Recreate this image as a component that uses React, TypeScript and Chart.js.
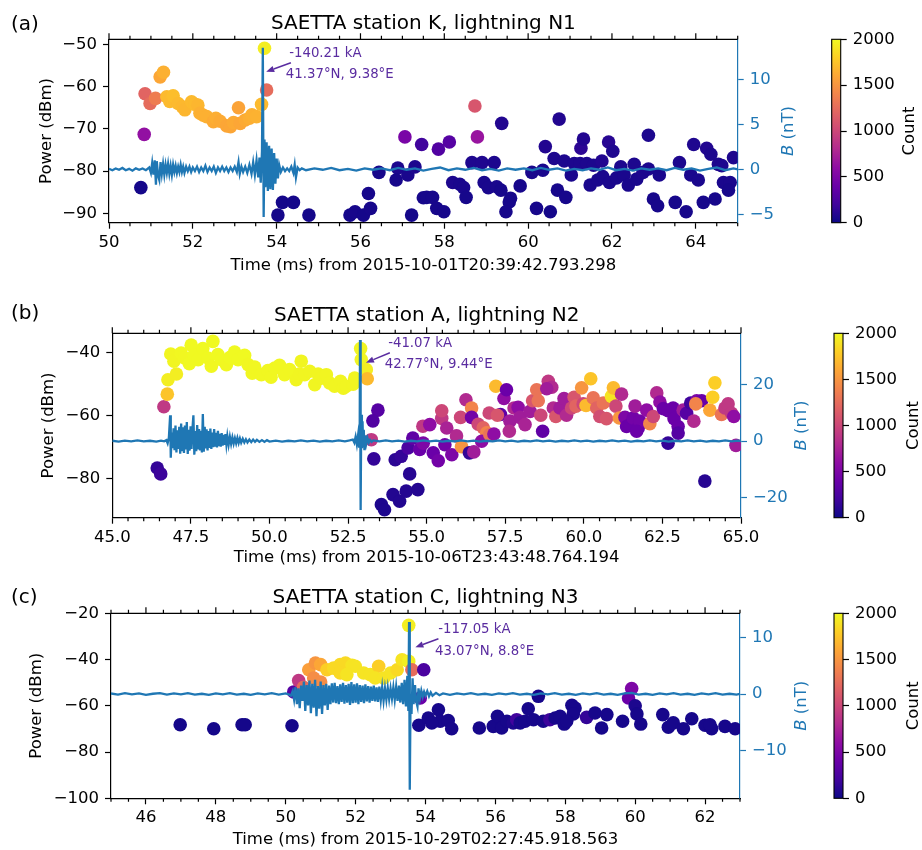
import React, { useEffect, useRef } from 'react';
import { Chart, registerables } from 'chart.js';

Chart.register(...registerables);

const FONT = "'DejaVu Sans', 'Liberation Sans', sans-serif";
const BLUE = '#1f77b4';
const ANN = '#5a2ca0';
const CMAX = 2000;
const PLASMA = ['#0d0887', '#41049d', '#6a00a8', '#8f0da4', '#b12a90', '#cc4778', '#e16462', '#f2844b', '#fca636', '#fcce25', '#f0f921'];

// ---------------- Panel (a) ----------------
// [time ms, power dBm, count]
const scatterA = [
  [50.76, -83.9, 30], [50.84, -71.3, 620], [50.86, -61.7, 1200], [50.98, -64.0, 1250], [51.11, -62.8, 1350],
  [51.22, -57.7, 1600], [51.30, -56.6, 1650], [51.38, -62.4, 1700], [51.45, -63.5, 1700], [51.53, -62.2, 1720],
  [51.65, -64.0, 1700], [51.75, -64.8, 1690], [51.81, -65.5, 1680], [51.97, -63.6, 1700], [52.05, -64.2, 1700],
  [52.12, -64.4, 1680], [52.17, -66.3, 1650], [52.25, -66.8, 1650], [52.33, -67.1, 1650], [52.49, -68.3, 1620],
  [52.55, -67.5, 1640], [52.65, -68.2, 1620], [52.81, -69.3, 1600], [52.90, -69.5, 1600], [52.97, -68.5, 1620],
  [53.09, -65.0, 1580], [53.13, -68.7, 1600], [53.25, -67.9, 1620], [53.35, -67.5, 1640], [53.41, -66.7, 1650],
  [53.52, -67.1, 1660], [53.64, -64.2, 1700], [53.71, -50.95, 1950], [53.76, -60.8, 1250],
  [53.85, -79.8, 40], [54.03, -90.4, 30], [54.14, -87.4, 30], [54.40, -87.4, 30], [54.77, -90.4, 30],
  [55.75, -90.4, 30], [55.87, -89.6, 40], [56.07, -90.4, 30], [56.24, -88.8, 40], [56.19, -85.3, 40],
  [56.44, -80.3, 40], [56.89, -79.3, 60], [56.85, -82.1, 40], [57.13, -80.9, 50], [57.30, -79.0, 60],
  [57.06, -71.9, 480], [57.46, -73.7, 200], [57.50, -86.3, 40], [57.22, -90.4, 30], [57.58, -86.2, 40],
  [57.72, -86.2, 40], [57.82, -88.8, 40], [57.99, -89.6, 40], [57.86, -74.8, 280], [58.12, -73.1, 300],
  [58.73, -64.6, 1100], [58.79, -71.9, 650], [58.20, -82.7, 60], [58.37, -83.1, 50], [58.46, -83.9, 50],
  [58.52, -86.2, 40], [58.66, -78.0, 70], [58.90, -78.0, 70], [58.95, -82.7, 50], [59.05, -83.9, 50],
  [59.19, -78.0, 60], [59.25, -83.7, 50], [59.35, -84.5, 40], [59.37, -68.7, 80], [59.58, -86.4, 40],
  [59.55, -87.3, 40], [59.47, -89.6, 40], [59.81, -83.5, 40], [60.09, -80.3, 50], [60.20, -88.8, 40],
  [60.35, -79.8, 50], [60.41, -74.2, 80], [60.53, -89.6, 30], [60.62, -77.0, 60], [60.74, -67.7, 80],
  [60.70, -84.5, 40], [60.86, -77.6, 60], [60.90, -86.2, 40], [61.03, -80.9, 50], [61.10, -78.2, 60],
  [61.26, -74.6, 120], [61.32, -72.4, 80], [61.24, -78.2, 60], [61.40, -78.2, 60], [61.56, -78.6, 60],
  [61.48, -83.3, 50], [61.66, -82.1, 50], [61.76, -77.6, 80], [61.78, -81.3, 50], [61.92, -73.1, 100],
  [62.02, -75.3, 70], [61.94, -82.7, 50], [62.11, -81.6, 50], [62.21, -79.0, 60], [62.29, -80.9, 50],
  [62.39, -83.3, 50], [62.53, -78.4, 60], [62.59, -81.9, 50], [62.74, -80.3, 60], [62.87, -71.5, 60],
  [62.87, -79.5, 60], [62.99, -86.6, 40], [63.09, -88.2, 40], [63.13, -80.9, 50], [63.51, -87.4, 40],
  [63.61, -78.0, 60], [63.77, -89.6, 40], [63.88, -80.9, 50], [64.06, -82.1, 50], [63.95, -73.7, 70],
  [64.18, -87.4, 40], [64.26, -74.6, 80], [64.36, -76.0, 60], [64.46, -86.6, 40], [64.54, -78.4, 60],
  [64.62, -78.7, 60], [64.66, -82.7, 50], [64.82, -82.7, 50], [64.78, -84.5, 40], [64.90, -76.8, 60],
];
// [time ms, B nT]
const bFieldA = [
  [50.00, 0.05], [50.08, -0.1], [50.16, 0.1], [50.24, -0.05], [50.32, 0.15], [50.40, -0.1], [50.48, 0.05], [50.56, -0.15],
  [50.64, 0.1], [50.72, -0.05], [50.80, 0.1], [50.88, -0.1], [50.96, 0.2], [51.00, -0.4], [51.03, 0.7], [51.06, -0.6],
  [51.09, 1.0], [51.12, -1.7], [51.14, 0.9], [51.17, -0.7], [51.20, -1.2], [51.23, 0.8], [51.26, -0.5], [51.29, 0.6],
  [51.32, -0.6], [51.35, 0.5], [51.38, -0.4], [51.41, 0.6], [51.44, -0.5], [51.47, 0.4], [51.50, -0.6], [51.53, 0.5],
  [51.56, -0.3], [51.59, 0.4], [51.62, -0.4], [51.65, 0.3], [51.68, -0.3], [51.71, 0.5], [51.74, -0.3], [51.77, 0.3],
  [51.80, -0.4], [51.84, 0.3], [51.88, -0.2], [51.92, 0.3], [51.96, -0.3], [52.00, 0.2], [52.05, -0.2], [52.10, 0.3],
  [52.15, -0.3], [52.20, 0.2], [52.25, -0.2], [52.30, 0.4], [52.35, -0.3], [52.40, 0.2], [52.45, -0.2], [52.50, 0.3],
  [52.55, -0.4], [52.60, 0.2], [52.65, -0.2], [52.70, 0.3], [52.75, -0.2], [52.80, 0.2], [52.85, -0.3], [52.90, 0.2],
  [52.95, -0.2], [53.00, 0.3], [53.05, -0.3], [53.09, 0.8], [53.12, -0.5], [53.16, 0.3], [53.20, -0.3], [53.25, 0.3],
  [53.30, -0.4], [53.35, 0.5], [53.40, -0.5], [53.44, 0.8], [53.48, -0.6], [53.52, 1.0], [53.56, -0.9], [53.59, 1.3],
  [53.62, -1.5], [53.65, 2.0], [53.67, 13.5], [53.69, -5.3], [53.71, 3.3], [53.73, -2.0], [53.76, 3.0], [53.79, -2.4],
  [53.82, 2.6], [53.85, -2.2], [53.88, 2.3], [53.91, -2.3], [53.94, 1.8], [53.97, -1.6], [54.00, 1.2], [54.03, -1.0],
  [54.06, 0.5], [54.10, -0.3], [54.15, 0.2], [54.20, -0.2], [54.25, 0.1], [54.30, -0.2], [54.35, 0.3], [54.40, -0.4],
  [54.43, 0.5], [54.46, -0.9], [54.50, 0.2], [54.55, -0.1], [54.60, 0.1], [54.70, -0.1], [54.9, 0.1], [55.1, -0.05],
  [55.3, 0.15], [55.5, -0.1], [55.7, 0.05], [55.9, -0.15], [56.1, 0.1], [56.3, -0.05], [56.5, 0.1], [56.7, -0.1],
  [56.9, 0.15], [57.1, -0.05], [57.3, 0.1], [57.5, -0.15], [57.7, 0.05], [57.9, 0.2], [58.1, -0.1], [58.3, 0.1],
  [58.5, -0.05], [58.7, 0.15], [58.9, -0.1], [59.1, 0.05], [59.3, -0.15], [59.5, 0.1], [59.7, -0.05], [59.9, 0.1],
  [60.1, -0.1], [60.3, 0.15], [60.5, -0.05], [60.7, 0.1], [60.9, -0.15], [61.1, 0.05], [61.3, -0.1], [61.5, 0.1],
  [61.7, -0.05], [61.9, 0.2], [62.1, -0.1], [62.3, 0.05], [62.5, -0.15], [62.7, 0.1], [62.9, -0.05], [63.1, 0.1],
  [63.3, -0.1], [63.5, 0.15], [63.7, -0.05], [63.9, 0.1], [64.1, -0.15], [64.3, 0.05], [64.5, 0.2], [64.7, -0.1],
  [64.9, 0.1], [65.0, 0.0],
];
const xTicksA = [50, 52, 54, 56, 58, 60, 62, 64];
const yTicksA = [-90, -80, -70, -60, -50];
const bTicksA = [-5, 0, 5, 10];

// ---------------- Panel (b) ----------------
const scatterB = [
  [46.43, -76.7, 150], [46.54, -78.6, 180], [46.64, -57.2, 900], [46.75, -53.2, 1750], [46.77, -48.6, 1950],
  [47.04, -46.8, 1950], [46.86, -40.4, 1980], [46.96, -42.7, 1980], [47.19, -40.1, 1990], [47.30, -41.7, 1990],
  [47.45, -43.5, 2000], [47.51, -37.6, 2000], [47.60, -40.8, 2000], [47.73, -42.2, 2000], [47.88, -38.7, 2000],
  [48.04, -41.7, 2000], [48.15, -44.3, 1990], [48.20, -36.4, 2000], [48.36, -40.6, 2000], [48.47, -42.2, 2000],
  [48.63, -43.8, 1990], [48.75, -41.5, 2000], [48.89, -39.8, 2000], [49.00, -42.2, 2000], [49.21, -40.8, 2000],
  [49.32, -43.8, 1990], [49.45, -46.5, 1990], [49.53, -44.6, 1990], [49.74, -47.0, 1990], [49.95, -45.7, 1990],
  [50.05, -47.8, 1990], [50.17, -44.9, 1990], [50.32, -44.0, 1990], [50.48, -47.0, 1990], [50.64, -45.4, 1990],
  [50.85, -48.6, 1980], [50.95, -46.8, 1980], [51.01, -42.7, 1980], [51.12, -47.0, 1980], [51.28, -45.9, 1980],
  [51.44, -50.2, 1980], [51.55, -46.8, 1980], [51.65, -48.1, 1980], [51.81, -47.0, 1980], [51.91, -49.6, 1980],
  [52.07, -50.7, 1980], [52.26, -49.1, 1980], [52.35, -51.3, 1980], [52.44, -50.7, 1980], [52.66, -50.0, 1980],
  [52.71, -48.1, 1980], [52.90, -38.7, 1980], [52.92, -42.2, 1980], [53.08, -45.4, 1950], [53.11, -48.3, 1700],
  [53.45, -58.3, 300], [53.29, -61.7, 280], [53.24, -67.7, 900], [53.32, -73.8, 150], [53.56, -88.4, 60],
  [53.66, -90.0, 60], [53.93, -85.2, 80], [54.14, -87.3, 80], [54.35, -84.1, 90], [54.46, -78.6, 100],
  [54.72, -83.6, 90], [54.00, -74.1, 120], [54.19, -73.0, 150], [54.41, -70.3, 250], [54.56, -67.2, 350],
  [54.78, -70.8, 400], [54.88, -63.4, 900], [55.10, -62.9, 600], [54.89, -68.8, 500], [55.21, -71.9, 400],
  [55.37, -74.4, 450], [55.48, -60.9, 900], [55.48, -58.5, 1000], [55.64, -64.0, 750], [55.58, -69.3, 450],
  [55.80, -72.5, 500], [55.95, -66.5, 800], [56.11, -69.9, 1500], [56.08, -60.6, 1000], [56.25, -55.0, 800],
  [56.43, -57.6, 1400], [56.43, -60.6, 450], [56.36, -71.9, 150], [56.50, -71.6, 700], [56.64, -62.8, 1000],
  [56.80, -63.9, 1200], [56.91, -65.5, 1400], [56.75, -68.2, 600], [57.01, -66.1, 1300], [57.14, -65.9, 600],
  [56.99, -59.2, 1000], [57.20, -50.7, 1700], [57.35, -59.7, 350], [57.25, -59.9, 1100], [57.46, -54.6, 600],
  [57.54, -51.8, 400], [57.65, -61.8, 700], [57.63, -65.0, 800], [57.78, -57.6, 800], [57.91, -57.4, 600],
  [57.97, -60.6, 700], [58.13, -62.9, 750], [58.29, -58.7, 700], [58.37, -55.3, 1100], [58.50, -51.8, 1300],
  [58.55, -55.3, 1300], [58.63, -59.9, 1000], [58.69, -65.0, 350], [58.87, -49.1, 900], [58.98, -51.0, 800],
  [58.82, -51.5, 700], [59.03, -57.6, 800], [59.11, -60.3, 1100], [59.24, -57.6, 700], [59.37, -54.6, 700],
  [59.45, -59.9, 800], [59.61, -57.6, 1000], [59.69, -54.2, 1100], [59.75, -57.0, 1200], [59.93, -51.2, 1500],
  [59.98, -56.3, 1000], [60.07, -56.8, 1700], [60.22, -48.3, 1750], [60.30, -54.4, 1300], [60.41, -57.6, 1200],
  [60.51, -60.3, 1050], [60.62, -56.0, 1300], [60.72, -61.0, 1100], [60.88, -53.9, 1900], [60.94, -51.2, 1700],
  [61.02, -57.0, 1000], [61.20, -53.2, 800], [61.13, -60.8, 1500], [61.31, -60.6, 500], [61.36, -63.5, 400],
  [61.47, -62.9, 400], [61.57, -60.8, 450], [61.73, -64.0, 400], [61.78, -61.8, 450], [61.63, -57.0, 700],
  [61.68, -65.0, 400], [62.00, -58.3, 600], [62.10, -62.6, 1400], [62.21, -60.3, 1000], [62.32, -52.8, 800],
  [62.42, -55.7, 600], [62.53, -57.8, 400], [62.68, -58.5, 400], [62.84, -57.6, 400], [62.87, -61.0, 400],
  [63.00, -63.5, 400], [63.00, -65.6, 300], [62.68, -68.8, 150], [63.16, -58.3, 700], [63.27, -59.3, 300],
  [63.40, -56.0, 200], [63.59, -55.3, 500], [63.75, -55.3, 400], [63.50, -61.8, 800], [63.56, -56.3, 1400],
  [63.85, -80.9, 100], [64.01, -58.3, 1600], [64.10, -54.2, 1800], [64.17, -49.6, 1800], [64.38, -59.7, 1300],
  [64.49, -57.6, 900], [64.59, -56.3, 900], [64.70, -59.3, 900], [64.77, -60.3, 600], [64.84, -69.5, 700],
];
const bFieldB = [
  [45.0, 0.1], [45.2, -0.2], [45.4, 0.15], [45.6, -0.1], [45.8, 0.2], [46.0, -0.15], [46.2, 0.1], [46.4, -0.2],
  [46.55, 0.15], [46.65, -0.1], [46.72, 0.3], [46.76, -0.8], [46.80, 1.2], [46.84, 9.1], [46.86, -5.9], [46.89, 3.0],
  [46.92, -2.5], [46.95, 4.5], [46.98, -3.2], [47.01, 5.5], [47.04, -4.0], [47.07, 3.8], [47.10, -2.8], [47.13, 5.0],
  [47.16, -4.5], [47.19, 6.2], [47.22, -3.6], [47.25, 4.8], [47.28, -4.2], [47.31, 5.5], [47.34, -3.0], [47.37, 6.7],
  [47.40, -4.6], [47.43, 4.0], [47.46, -3.4], [47.49, 5.2], [47.52, -2.8], [47.55, 4.3], [47.58, 9.1], [47.61, -4.8],
  [47.64, 3.5], [47.67, -3.6], [47.70, 5.6], [47.73, -3.0], [47.76, 4.2], [47.79, -2.9], [47.82, 3.6], [47.85, -4.0],
  [47.88, 9.5], [47.91, -3.8], [47.94, 5.0], [47.97, -2.6], [48.00, 4.1], [48.03, -3.3], [48.06, 3.5], [48.09, -2.4],
  [48.12, 4.4], [48.15, -2.8], [48.18, 3.0], [48.21, -2.2], [48.24, 4.2], [48.27, -2.0], [48.30, 2.9], [48.33, -2.3],
  [48.36, 3.6], [48.39, -1.8], [48.42, 2.5], [48.45, -2.0], [48.48, 2.8], [48.51, -1.6], [48.54, 2.2], [48.57, -1.4],
  [48.60, 2.4], [48.63, -1.2], [48.66, 1.8], [48.70, -1.3], [48.74, 1.5], [48.78, -1.0], [48.82, 1.3], [48.86, -0.9],
  [48.90, 1.0], [48.94, -0.8], [48.98, 1.1], [49.02, -0.7], [49.06, 0.9], [49.10, -0.6], [49.15, 0.8], [49.20, -0.5],
  [49.25, 0.6], [49.30, -0.5], [49.36, 0.5], [49.42, -0.4], [49.48, 0.5], [49.54, -0.3], [49.60, 0.4], [49.68, -0.3],
  [49.76, 0.3], [49.84, -0.3], [49.92, 0.3], [50.0, -0.2], [50.2, 0.15], [50.4, -0.2], [50.6, 0.1], [50.8, -0.15],
  [51.0, 0.2], [51.2, -0.1], [51.4, 0.15], [51.6, -0.2], [51.8, 0.1], [52.0, -0.15], [52.2, 0.2], [52.4, -0.1],
  [52.55, 0.2], [52.65, 0.5], [52.70, -0.6], [52.74, 1.5], [52.78, -1.2], [52.82, 2.2], [52.85, -2.0], [52.87, 3.0],
  [52.88, 35.6], [52.90, -24.3], [52.92, 9.3], [52.94, -2.5], [52.96, 7.0], [52.98, -1.8], [53.00, 4.0], [53.02, -3.2],
  [53.05, 2.0], [53.08, -1.0], [53.12, 1.0], [53.16, -0.6], [53.20, 0.4], [53.25, -0.3], [53.30, 0.2], [53.5, -0.15],
  [53.7, 0.2], [53.9, -0.1], [54.1, 0.15], [54.3, -0.2], [54.5, 0.1], [54.7, -0.15], [54.9, 0.2], [55.1, -0.1],
  [55.3, 0.15], [55.5, -0.2], [55.7, 0.1], [55.9, -0.15], [56.1, 0.2], [56.3, -0.1], [56.5, 0.15], [56.7, -0.2],
  [56.9, 0.1], [57.1, -0.15], [57.3, 0.2], [57.5, -0.1], [57.7, 0.15], [57.9, -0.2], [58.1, 0.1], [58.3, -0.15],
  [58.5, 0.2], [58.7, -0.1], [58.9, 0.15], [59.1, -0.2], [59.3, 0.1], [59.5, -0.15], [59.7, 0.2], [59.9, -0.1],
  [60.1, 0.15], [60.3, -0.2], [60.5, 0.1], [60.7, -0.15], [60.9, 0.2], [61.1, -0.1], [61.3, 0.15], [61.5, -0.2],
  [61.7, 0.1], [61.9, -0.15], [62.1, 0.2], [62.3, -0.1], [62.5, 0.15], [62.7, -0.2], [62.9, 0.1], [63.1, -0.15],
  [63.3, 0.2], [63.5, -0.1], [63.7, 0.15], [63.9, -0.2], [64.1, 0.1], [64.3, -0.15], [64.5, 0.2], [64.7, -0.1],
  [64.9, 0.15], [65.0, 0.0],
];
const xTicksB = [45, 47.5, 50, 52.5, 55, 57.5, 60, 62.5, 65];
const yTicksB = [-80, -60, -40];
const bTicksB = [-20, 0, 20];

// ---------------- Panel (c) ----------------
const scatterC = [
  [46.98, -68.2, 30], [47.94, -69.9, 30], [48.75, -68.2, 30], [48.84, -68.2, 30], [50.18, -68.6, 30],
  [50.23, -54.0, 300], [50.37, -49.1, 900], [50.51, -52.0, 1250], [50.66, -44.4, 1550], [50.85, -41.5, 1500],
  [51.00, -42.2, 1600], [50.80, -48.0, 1450], [51.00, -49.7, 1450], [51.18, -44.4, 1800], [51.37, -43.7, 1850],
  [51.56, -42.2, 1850], [51.71, -41.5, 1850], [51.90, -42.5, 1900], [51.99, -42.9, 1900], [51.56, -45.8, 1850],
  [51.75, -46.5, 1900], [52.23, -45.8, 1900], [52.42, -46.5, 1900], [52.66, -42.9, 1800], [52.56, -48.0, 1900],
  [52.80, -48.0, 1900], [53.00, -45.8, 1900], [53.19, -44.4, 1850], [53.33, -40.1, 1900], [53.52, -40.8, 1950],
  [53.52, -25.2, 1950], [53.61, -44.4, 1250], [53.95, -44.4, 250], [53.81, -68.4, 40], [53.85, -56.6, 400],
  [54.08, -65.3, 40], [54.37, -61.7, 40], [54.42, -66.7, 40], [54.65, -66.4, 40], [54.75, -69.9, 40],
  [54.18, -67.4, 40], [55.54, -69.6, 40], [55.94, -68.9, 40], [56.06, -64.5, 40], [56.18, -69.6, 40],
  [56.33, -66.7, 40], [56.51, -67.4, 60], [56.61, -66.0, 200], [56.71, -67.4, 40], [56.85, -66.7, 40],
  [56.94, -61.3, 40], [57.09, -66.0, 40], [57.23, -55.9, 40], [57.37, -66.7, 40], [57.56, -66.0, 180],
  [57.71, -65.3, 40], [57.85, -64.5, 40], [57.97, -67.9, 40], [58.19, -59.8, 40], [58.28, -61.0, 40],
  [58.23, -63.5, 40], [58.04, -66.7, 40], [58.61, -65.0, 150], [58.85, -63.1, 40], [59.19, -63.8, 40],
  [59.04, -69.6, 40], [59.64, -66.7, 40], [59.90, -52.5, 500], [59.81, -56.6, 400], [60.00, -60.0, 60],
  [60.05, -63.5, 40], [60.16, -67.9, 40], [60.79, -63.8, 40], [60.95, -69.3, 40], [61.09, -67.4, 40],
  [61.38, -69.9, 40], [61.62, -65.6, 40], [62.00, -68.4, 40], [62.19, -69.9, 40], [62.14, -68.2, 40],
  [62.57, -68.9, 40], [62.86, -69.9, 40],
];
const bFieldC = [
  [45.0, 0.1], [45.2, -0.1], [45.4, 0.15], [45.6, -0.05], [45.8, 0.1], [46.0, -0.15], [46.2, 0.05], [46.4, 0.15],
  [46.6, -0.1], [46.8, 0.1], [47.0, -0.05], [47.2, 0.15], [47.4, -0.1], [47.6, 0.05], [47.8, -0.15], [48.0, 0.1],
  [48.2, -0.05], [48.4, 0.15], [48.6, -0.1], [48.8, 0.05], [49.0, -0.15], [49.2, 0.1], [49.4, -0.05], [49.6, 0.15],
  [49.8, -0.1], [50.0, 0.1], [50.1, -0.1], [50.15, -0.3], [50.20, 0.5], [50.24, -1.0], [50.28, 1.2], [50.32, -1.8],
  [50.36, 1.0], [50.40, -2.5], [50.44, 1.5], [50.48, -1.2], [50.52, 2.2], [50.56, -3.0], [50.60, 1.6], [50.64, -2.0],
  [50.68, 2.4], [50.72, -3.4], [50.76, 1.8], [50.80, -2.4], [50.84, 2.5], [50.88, -3.9], [50.92, 1.4], [50.96, -2.6],
  [51.00, 2.2], [51.04, -3.5], [51.08, 1.6], [51.12, -2.0], [51.16, 1.8], [51.20, -2.8], [51.24, 1.5], [51.28, -1.8],
  [51.32, 1.9], [51.36, -1.5], [51.40, 2.0], [51.44, -1.6], [51.48, 1.4], [51.52, -1.8], [51.56, 1.7], [51.60, -1.4],
  [51.64, 2.0], [51.68, -1.7], [51.72, 1.6], [51.76, -1.5], [51.80, 1.8], [51.84, -1.9], [51.88, 2.1], [51.92, -1.6],
  [51.96, 1.7], [52.00, -1.5], [52.04, 1.9], [52.08, -1.8], [52.12, 1.6], [52.16, -1.4], [52.20, 1.5], [52.24, -1.6],
  [52.28, 1.7], [52.32, -1.3], [52.36, 1.4], [52.40, -1.5], [52.44, 1.3], [52.48, -1.2], [52.52, 1.5], [52.56, -1.3],
  [52.60, 1.2], [52.64, -1.4], [52.68, 1.3], [52.72, -1.1], [52.76, 1.2], [52.80, -1.2], [52.84, 1.0], [52.88, -1.0],
  [52.92, 1.1], [52.96, -0.9], [53.00, 1.0], [53.04, -0.8], [53.08, 1.2], [53.12, -1.0], [53.16, 1.3], [53.20, -1.2],
  [53.24, 1.5], [53.28, -1.5], [53.32, 2.0], [53.36, -1.8], [53.40, 2.5], [53.44, -2.2], [53.48, 3.2], [53.51, -3.0],
  [53.53, 12.7], [53.55, -16.9], [53.57, -2.0], [53.60, -3.5], [53.63, 2.8], [53.66, -1.8], [53.70, 1.6], [53.73, -1.2],
  [53.77, -2.2], [53.80, 1.0], [53.84, -0.8], [53.88, 0.6], [53.92, -0.5], [53.96, 0.4], [54.0, -0.3], [54.05, 0.5],
  [54.1, -0.4], [54.15, 0.3], [54.2, -0.3], [54.3, 0.2], [54.4, -0.2], [54.5, 0.1], [54.7, -0.15], [54.9, 0.1],
  [55.1, -0.05], [55.3, 0.15], [55.5, -0.1], [55.7, 0.05], [55.9, -0.15], [56.1, 0.1], [56.3, -0.05], [56.5, 0.15],
  [56.7, -0.1], [56.9, 0.05], [57.1, -0.15], [57.3, 0.1], [57.5, -0.05], [57.7, 0.15], [57.9, -0.1], [58.1, 0.05],
  [58.3, -0.15], [58.5, 0.1], [58.7, -0.05], [58.9, 0.15], [59.1, -0.1], [59.3, 0.05], [59.5, -0.15], [59.7, 0.1],
  [59.9, 0.2], [60.1, -0.1], [60.3, 0.05], [60.5, -0.15], [60.7, 0.1], [60.9, -0.05], [61.1, 0.15], [61.3, -0.1],
  [61.5, 0.05], [61.7, -0.15], [61.9, 0.1], [62.1, -0.05], [62.3, 0.15], [62.5, -0.1], [62.7, 0.05], [62.9, -0.1],
  [63.0, 0.05],
];
const xTicksC = [46, 48, 50, 52, 54, 56, 58, 60, 62];
const yTicksC = [-100, -80, -60, -40, -20];
const bTicksC = [-10, 0, 10];

const countTicks = [0, 500, 1000, 1500, 2000];

// ---------------- helpers ----------------
function hexToRgb(h: string) {
  return [parseInt(h.slice(1, 3), 16), parseInt(h.slice(3, 5), 16), parseInt(h.slice(5, 7), 16)];
}
function plasma(v: number) {
  const t = Math.max(0, Math.min(1, v));
  const s = t * (PLASMA.length - 1);
  const i = Math.min(PLASMA.length - 2, Math.floor(s));
  const f = s - i;
  const a = hexToRgb(PLASMA[i]);
  const b = hexToRgb(PLASMA[i + 1]);
  const c = a.map((x, k) => Math.round(x + (b[k] - x) * f));
  return `rgb(${c[0]},${c[1]},${c[2]})`;
}
const fmt = (v: number, d: number) => (v < 0 ? '\u2212' : '') + Math.abs(v).toFixed(d);

type Panel = {
  label: string; title: string; xlabel: string;
  top: number; H: number; areaTop: number; areaBottom: number; areaLeft: number; areaRight: number; cbRight: number;
  xMin: number; xMax: number; xTicks: number[]; xDec: number; minor: number;
  yMin: number; yMax: number; yTicks: number[];
  bMin: number; bMax: number; bTicks: number[];
  scatter: number[][]; bField: number[][];
  titleY: number; labelY: number; xTitlePad: number; yTitlePad: number; bLabelX: number; countX: number;
  ann: { lines: string[]; t: number; p: number; from: number[]; to: number[] };
};

const panels: Panel[] = [
  {
    label: '(a)', title: 'SAETTA station K, lightning N1', xlabel: 'Time (ms) from 2015-10-01T20:39:42.793.298',
    top: 0, H: 300, areaTop: 39.3, areaBottom: 222.7, areaLeft: 109, areaRight: 737.7, cbRight: 840.7,
    xMin: 50, xMax: 65, xTicks: xTicksA, xDec: 0, minor: 0.5,
    yMin: -92.2, yMax: -48.82, yTicks: yTicksA, bMin: -5.93, bMax: 14.44, bTicks: bTicksA,
    scatter: scatterA, bField: bFieldA,
    titleY: 24, labelY: 25, xTitlePad: 24.4, yTitlePad: 36.7, bLabelX: 788.3, countX: 910,
    ann: { lines: ['-140.21 kA', '41.37°N, 9.38°E'], t: 54.22, p: -52.13, from: [54.34, -54.36], to: [53.75, -56.49] },
  },
  {
    label: '(b)', title: 'SAETTA station A, lightning N2', xlabel: 'Time (ms) from 2015-10-06T23:43:48.764.194',
    top: 285, H: 295, areaTop: 48.3, areaBottom: 232.7, areaLeft: 112.3, areaRight: 741, cbRight: 843,
    xMin: 45, xMax: 65, xTicks: xTicksB, xDec: 1, minor: 0.5,
    yMin: -92.55, yMax: -33.82, yTicks: yTicksB, bMin: -27.05, bMax: 38.0, bTicks: bTicksB,
    scatter: scatterB, bField: bFieldB,
    titleY: 30.8, labelY: 29.2, xTitlePad: 12.1, yTitlePad: 38.4, bLabelX: 801.7, countX: 913.3,
    ann: { lines: ['-41.07 kA', '42.77°N, 9.44°E'], t: 53.67, p: -37.0, from: [53.83, -40.0], to: [53.07, -43.2] },
  },
  {
    label: '(c)', title: 'SAETTA station C, lightning N3', xlabel: 'Time (ms) from 2015-10-29T02:27:45.918.563',
    top: 565, H: 285, areaTop: 48.3, areaBottom: 233.3, areaLeft: 111, areaRight: 740, cbRight: 843,
    xMin: 45, xMax: 63, xTicks: xTicksC, xDec: 0, minor: 0.5,
    yMin: -100, yMax: -20, yTicks: yTicksC, bMin: -18.4, bMax: 14.25, bTicks: bTicksC,
    scatter: scatterC, bField: bFieldC,
    titleY: 32.5, labelY: 32.5, xTitlePad: 0.1, yTitlePad: 26.8, bLabelX: 801.7, countX: 913.3,
    ann: { lines: ['-117.05 kA', '43.07°N, 8.8°E'], t: 54.27, p: -27.2, from: [54.37, -31.0], to: [53.71, -34.7] },
  },
];

const TICK_FONT = { family: FONT, size: 16.5 };

function makeDecor(cfg: Panel) {
  return {
    id: 'decor',
    afterDraw(chart: any) {
      const ctx = chart.ctx as CanvasRenderingContext2D;
      const { left, right, top, bottom } = chart.chartArea;
      const xs = chart.scales.x;
      const ys = chart.scales.y;
      const cb = chart.scales.cb;
      ctx.save();
      // top spine + ticks
      ctx.strokeStyle = '#000';
      ctx.lineWidth = 1.2;
      ctx.beginPath();
      ctx.moveTo(left, top);
      ctx.lineTo(right, top);
      for (const v of cfg.xTicks) {
        const px = xs.getPixelForValue(v);
        ctx.moveTo(px, top);
        ctx.lineTo(px, top - 6);
      }
      const n = Math.round((cfg.xMax - cfg.xMin) / cfg.minor);
      for (let k = 0; k <= n; k++) {
        const v = cfg.xMin + k * cfg.minor;
        if (cfg.xTicks.some((t) => Math.abs(t - v) < 1e-6)) continue;
        const px = xs.getPixelForValue(v);
        ctx.moveTo(px, top);
        ctx.lineTo(px, top - 3.5);
        ctx.moveTo(px, bottom);
        ctx.lineTo(px, bottom + 3.5);
      }
      ctx.stroke();

      // colorbar
      const cx0 = cb.left - 9;
      const g = ctx.createLinearGradient(0, bottom, 0, top);
      PLASMA.forEach((c, i) => g.addColorStop(i / (PLASMA.length - 1), c));
      ctx.fillStyle = g;
      ctx.fillRect(cx0, top, 9, bottom - top);
      ctx.lineWidth = 1.1;
      ctx.strokeRect(cx0, top, 9, bottom - top);

      // title and panel label
      ctx.fillStyle = '#000';
      ctx.font = `20px ${FONT}`;
      ctx.textBaseline = 'middle';
      ctx.textAlign = 'center';
      ctx.fillText(cfg.title, (left + right) / 2, cfg.titleY);
      ctx.textAlign = 'left';
      ctx.fillText(cfg.label, 11, cfg.labelY);

      // Count label
      const midY = (top + bottom) / 2;
      ctx.save();
      ctx.translate(cfg.countX, midY);
      ctx.rotate(-Math.PI / 2);
      ctx.font = `16.5px ${FONT}`;
      ctx.textAlign = 'center';
      ctx.fillText('Count', 0, 0);
      ctx.restore();

      // B (nT) label
      ctx.save();
      ctx.translate(cfg.bLabelX, midY);
      ctx.rotate(-Math.PI / 2);
      ctx.fillStyle = BLUE;
      const it = `italic 16.5px ${FONT}`;
      const nm = `16.5px ${FONT}`;
      ctx.font = it;
      const wB = ctx.measureText('B').width;
      ctx.font = nm;
      const wR = ctx.measureText(' (nT)').width;
      const x0 = -(wB + wR) / 2;
      ctx.textAlign = 'left';
      ctx.font = it;
      ctx.fillText('B', x0, 0);
      ctx.font = nm;
      ctx.fillText(' (nT)', x0 + wB, 0);
      ctx.restore();

      // annotation
      const a = cfg.ann;
      const ax = xs.getPixelForValue(a.t);
      const ay = ys.getPixelForValue(a.p);
      ctx.fillStyle = ANN;
      ctx.strokeStyle = ANN;
      ctx.font = `13.3px ${FONT}`;
      ctx.textAlign = 'left';
      ctx.textBaseline = 'middle';
      ctx.fillText(a.lines[0], ax + 3.3, ay);
      ctx.fillText(a.lines[1], ax, ay + 21.5);
      const fx = xs.getPixelForValue(a.from[0]);
      const fy = ys.getPixelForValue(a.from[1]);
      const tx = xs.getPixelForValue(a.to[0]);
      const ty = ys.getPixelForValue(a.to[1]);
      const ang = Math.atan2(ty - fy, tx - fx);
      const hl = 8, hw = 3.2;
      const bx = tx - hl * Math.cos(ang);
      const by = ty - hl * Math.sin(ang);
      ctx.lineWidth = 1.5;
      ctx.beginPath();
      ctx.moveTo(fx, fy);
      ctx.lineTo(bx, by);
      ctx.stroke();
      ctx.beginPath();
      ctx.moveTo(tx, ty);
      ctx.lineTo(bx + hw * Math.sin(ang), by - hw * Math.cos(ang));
      ctx.lineTo(bx - hw * Math.sin(ang), by + hw * Math.cos(ang));
      ctx.closePath();
      ctx.fill();
      ctx.restore();
    },
  };
}

function buildConfig(cfg: Panel): any {
  const gridBlack = { drawOnChartArea: false, drawTicks: true, tickLength: 6, tickWidth: 1.2, tickColor: '#000', color: '#000' };
  return {
    type: 'scatter',
    data: {
      datasets: [
        {
          label: 'B',
          data: cfg.bField.map(([x, y]) => ({ x, y })),
          yAxisID: 'yB',
          showLine: true,
          borderColor: BLUE,
          borderWidth: 2.3,
          pointRadius: 0,
          pointHoverRadius: 0,
          fill: false,
          order: 0,
        },
        {
          label: 'Power',
          data: cfg.scatter.map(([x, y]) => ({ x, y })),
          yAxisID: 'y',
          pointBackgroundColor: cfg.scatter.map((p) => plasma(p[2] / CMAX)),
          pointBorderWidth: 0,
          pointRadius: 6.8,
          pointHoverRadius: 6.8,
          order: 1,
        },
      ],
    },
    options: {
      animation: false,
      responsive: false,
      devicePixelRatio: 1,
      events: [],
      layout: { padding: { top: cfg.areaTop, left: 0, right: 0, bottom: 0 } },
      plugins: { legend: { display: false }, title: { display: false }, tooltip: { enabled: false } },
      scales: {
        x: {
          type: 'linear', position: 'bottom', min: cfg.xMin, max: cfg.xMax,
          afterBuildTicks: (s: any) => { s.ticks = cfg.xTicks.map((v) => ({ value: v })); },
          afterFit: (s: any) => { s.height = cfg.H - cfg.areaBottom; },
          ticks: { font: TICK_FONT, color: '#000', padding: 4, autoSkip: false, maxRotation: 0, callback: (v: number) => fmt(v, cfg.xDec) },
          grid: gridBlack,
          border: { display: true, color: '#000', width: 1.2 },
          title: { display: true, text: cfg.xlabel, font: TICK_FONT, color: '#000', padding: { top: 0, bottom: cfg.xTitlePad } },
        },
        y: {
          type: 'linear', position: 'left', min: cfg.yMin, max: cfg.yMax,
          afterBuildTicks: (s: any) => { s.ticks = cfg.yTicks.map((v) => ({ value: v })); },
          afterFit: (s: any) => { s.width = cfg.areaLeft; },
          ticks: { font: TICK_FONT, color: '#000', padding: 6, callback: (v: number) => fmt(v, 0) },
          grid: gridBlack,
          border: { display: true, color: '#000', width: 1.2 },
          title: { display: true, text: 'Power (dBm)', font: TICK_FONT, color: '#000', padding: { top: cfg.yTitlePad, bottom: 0 } },
        },
        yB: {
          type: 'linear', position: 'right', weight: 0, min: cfg.bMin, max: cfg.bMax,
          afterBuildTicks: (s: any) => { s.ticks = cfg.bTicks.map((v) => ({ value: v })); },
          afterFit: (s: any) => { s.width = cfg.cbRight - cfg.areaRight; },
          ticks: { font: TICK_FONT, color: BLUE, padding: 6, callback: (v: number) => fmt(v, 0) },
          grid: { ...gridBlack, tickColor: BLUE, color: BLUE },
          border: { display: true, color: BLUE, width: 1.2 },
        },
        cb: {
          type: 'linear', position: 'right', weight: 1, display: true, min: 0, max: CMAX,
          afterBuildTicks: (s: any) => { s.ticks = countTicks.map((v) => ({ value: v })); },
          afterFit: (s: any) => { s.width = 922 - cfg.cbRight; },
          ticks: { font: TICK_FONT, color: '#000', padding: 6, callback: (v: number) => String(v) },
          grid: gridBlack,
          border: { display: false },
        },
      },
    },
    plugins: [makeDecor(cfg)],
  };
}

function PanelChart({ cfg }: { cfg: Panel }) {
  const ref = useRef<HTMLCanvasElement>(null);
  useEffect(() => {
    if (!ref.current) return;
    const chart = new Chart(ref.current, buildConfig(cfg));
    return () => chart.destroy();
  }, [cfg]);
  return (
    <canvas
      ref={ref}
      width={922}
      height={cfg.H}
      style={{ position: 'absolute', left: 0, top: cfg.top, width: 922, height: cfg.H, display: 'block' }}
    />
  );
}

export default function App() {
  Chart.defaults.font.family = FONT;
  Chart.defaults.color = '#000';
  return (
    <div style={{ position: 'absolute', left: 0, top: 0, width: 922, height: 850, background: '#fff', overflow: 'hidden' }}>
      {panels.map((p) => (
        <PanelChart key={p.label} cfg={p} />
      ))}
    </div>
  );
}
